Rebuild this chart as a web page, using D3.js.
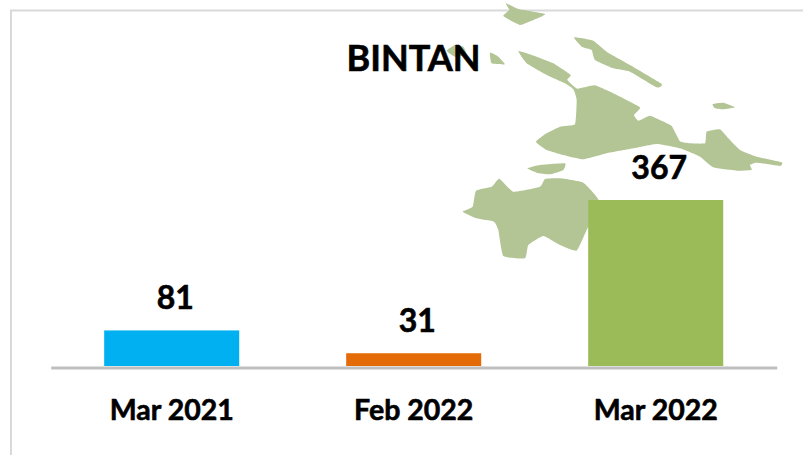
<!DOCTYPE html>
<html>
<head>
<meta charset="utf-8">
<script src="https://cdn.jsdelivr.net/npm/d3@7"></script>
<style>
  html, body { margin: 0; padding: 0; background: #fff; }
  svg { display: block; }
  text { font-family: Lato, "Noto Sans", sans-serif; font-weight: 700; fill: #000; stroke: #000; stroke-width: 0.6px; }
</style>
</head>
<body>
<svg width="803" height="455"></svg>
<script>
const chartTitle = 'BINTAN';
const categories = ['Mar 2021', 'Feb 2022', 'Mar 2022'];
const values = [81, 31, 367];
const barColors = ['#00b0f0', '#e36c09', '#9bbb59'];

// backdrop map of the islands, traced in a 3x grid
const islands = [
  [[258,425],[290,400],[330,380],[375,373],[380,300],[370,268],[345,250],[290,225],[230,190],[205,153],[260,170],[310,190],[362,225],[352,240],[382,266],[435,256],[500,285],[570,322],[552,345],[565,362],[600,347],[630,360],[665,378],[690,424],[720,430],[765,430],[770,395],[810,388],[835,415],[870,450],[920,470],[995,487],[990,498],[920,488],[900,495],[905,510],[860,512],[790,502],[750,470],[690,445],[620,432],[550,445],[470,460],[400,478],[340,465],[290,450]],
  [[168,10],[205,27],[285,42],[255,58],[210,75],[160,48],[178,30]],
  [[372,112],[430,122],[470,155],[540,195],[635,252],[620,262],[540,215],[490,205],[435,180],[425,150],[395,140]],
  [[120,158],[145,170],[165,193],[125,190]],
  [[-10,152],[15,135],[40,140],[50,165],[15,170]],
  [[788,312],[820,308],[855,322],[820,328],[795,325]],
  [[232,505],[270,495],[345,490],[340,510],[300,523],[260,518]],
  [[38,635],[68,620],[78,572],[125,560],[148,536],[190,575],[270,560],[285,537],[330,535],[400,548],[445,598],[430,650],[410,690],[380,752],[330,735],[280,708],[235,735],[225,775],[160,768],[145,690],[132,665],[80,655]],
];

const svg = d3.select('svg');

const defs = svg.append('defs');
defs.append('filter').attr('id', 'soft')
  .append('feGaussianBlur').attr('stdDeviation', 1.6);

// chart frame, only top and left show
svg.append('path')
  .attr('d', 'M11,455V10.5H803')
  .attr('fill', 'none')
  .attr('stroke', '#d9d9d9')
  .attr('stroke-width', 2);

const outline = d3.line().curve(d3.curveCardinalClosed.tension(0.6));
svg.append('g')
  .attr('class', 'map')
  .attr('transform', 'translate(450,0) scale(0.3333)')
  .attr('filter', 'url(#soft)')
  .selectAll('path')
  .data(islands)
  .join('path')
  .attr('d', outline)
  .attr('fill', '#b3c595');

const x = d3.scaleBand()
  .domain(categories)
  .range([50.7, 776.7])
  .paddingInner(0.442)
  .paddingOuter(0.221);

const y = d3.scaleLinear()
  .domain([3, 367])
  .range([366, 200]);

svg.append('g')
  .attr('class', 'bars')
  .selectAll('rect')
  .data(values)
  .join('rect')
  .attr('x', (d, i) => x(categories[i]))
  .attr('y', d => y(d))
  .attr('width', x.bandwidth())
  .attr('height', d => y.range()[0] - y(d))
  .attr('fill', (d, i) => barColors[i]);

const axis = svg.append('g')
  .attr('transform', 'translate(0,367.5)')
  .call(d3.axisBottom(x).tickSize(0).tickSizeOuter(0).tickPadding(0));

axis.select('.domain')
  .attr('stroke', '#bfbfbf')
  .attr('stroke-width', 3);

axis.selectAll('text')
  .attr('dy', 0)
  .attr('y', 52)
  .attr('font-size', 28.5)
  .style('font-family', 'Lato, "Noto Sans", sans-serif');

svg.append('g')
  .attr('class', 'labels')
  .selectAll('text')
  .data(values)
  .join('text')
  .attr('x', (d, i) => x(categories[i]) + x.bandwidth() / 2 + 3.5)
  .attr('y', d => y(d) - 21)
  .attr('text-anchor', 'middle')
  .attr('font-size', 32)
  .text(d => d);

svg.append('text')
  .attr('x', 413.5)
  .attr('y', 71)
  .attr('text-anchor', 'middle')
  .attr('font-size', 36)
  .text(chartTitle);
</script>
</body>
</html>
